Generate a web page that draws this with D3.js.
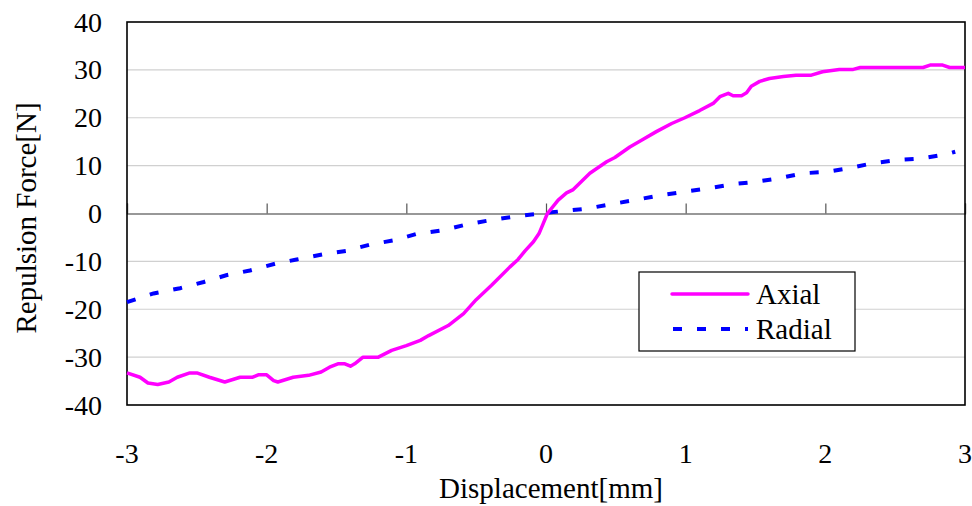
<!DOCTYPE html>
<html><head><meta charset="utf-8">
<script src="https://cdn.jsdelivr.net/npm/d3@7"></script>
<style>text{font-family:'Times New Roman','Liberation Serif',serif !important}</style>
</head><body style="margin:0">
<script>
const xTicks = [-3,-2,-1,0,1,2,3];
const yTicks = [-40,-30,-20,-10,0,10,20,30,40];
const axialX = [-3,-2.907,-2.85,-2.78,-2.70,-2.64,-2.55,-2.50,-2.41,-2.30,-2.19,-2.10,-2.06,-2.00,-1.95,-1.92,-1.81,-1.70,-1.61,-1.55,-1.49,-1.44,-1.40,-1.37,-1.31,-1.20,-1.105,-1.00,-0.90,-0.84,-0.70,-0.59,-0.50,-0.39,-0.26,-0.20,-0.15,-0.09,-0.05,-0.02,0.01,0.087,0.147,0.195,0.314,0.434,0.493,0.60,0.696,0.79,0.90,0.994,1.10,1.197,1.245,1.305,1.34,1.40,1.436,1.47,1.53,1.60,1.70,1.79,1.90,1.98,2.10,2.20,2.25,2.70,2.75,2.84,2.89,3.0];
const axialY = [-33.3,-34.2,-35.4,-35.7,-35.2,-34.2,-33.3,-33.3,-34.2,-35.2,-34.2,-34.2,-33.7,-33.7,-34.9,-35.2,-34.2,-33.8,-33.1,-32.1,-31.4,-31.4,-31.9,-31.4,-30.0,-30.0,-28.6,-27.6,-26.5,-25.5,-23.4,-20.9,-18.0,-15.0,-11.2,-9.6,-7.8,-5.9,-4.2,-2.1,0.0,2.8,4.3,5.0,8.4,10.8,11.7,13.9,15.5,17.1,18.8,20.0,21.5,23.0,24.4,25.1,24.6,24.6,25.2,26.6,27.6,28.2,28.6,28.9,28.9,29.6,30.1,30.1,30.5,30.5,31.0,31.0,30.5,30.5];
const radialX = [-3,-2.81,-2.62,-2.45,-2.29,-2.12,-1.94,-1.785,-1.595,-1.43,-1.26,-1.09,-0.93,-0.74,-0.57,-0.40,-0.22,-0.04,0.12,0.29,0.457,0.636,0.815,0.98,1.15,1.33,1.495,1.66,1.84,2.01,2.175,2.34,2.52,2.69,2.87,2.93];
const radialY = [-18.5,-16.7,-15.6,-14.3,-12.9,-11.9,-10.5,-9.6,-8.5,-7.8,-6.5,-5.6,-4.3,-3.5,-2.3,-1.4,-0.6,0.0,0.5,1.0,1.9,2.8,3.8,4.5,5.2,6.1,6.6,7.3,8.4,8.7,9.5,10.5,11.2,11.5,12.4,12.9];
const seriesNames = ["Axial","Radial"];

const W=972,H=506;
const L=127,R=965,T=22,B=405;
const svg=d3.select("body").append("svg").attr("width",W).attr("height",H);
const x=d3.scaleLinear().domain([-3,3]).range([L,R]);
const y=d3.scaleLinear().domain([-40,40]).range([B,T]);

svg.append("g").selectAll("line").data(yTicks.filter(v=>v!==0&&v!==40&&v!==-40)).join("line")
  .attr("x1",L).attr("x2",R).attr("y1",d=>y(d)).attr("y2",d=>y(d))
  .attr("stroke","#d0d0d0").attr("stroke-width",1.2);

const xAxis=d3.axisTop(x).tickValues(xTicks).tickSize(10).tickFormat("");
const gx=svg.append("g").attr("transform",`translate(0,${y(0)})`).call(xAxis);
gx.select(".domain").attr("stroke","#333").attr("stroke-width",1.2);
gx.selectAll(".tick line").attr("stroke","#555").attr("stroke-width",1.2);

svg.append("rect").attr("x",L).attr("y",T).attr("width",R-L).attr("height",B-T)
  .attr("fill","none").attr("stroke","#000").attr("stroke-width",1.6);

function txt(sel,size){return sel.style("font-family","Times New Roman").style("font-size",size+"px");}

txt(svg.append("g").selectAll("text").data(xTicks).join("text")
  .attr("x",d=>x(d)).attr("y",463).attr("text-anchor","middle"),28).text(d=>d);
txt(svg.append("g").selectAll("text").data(yTicks).join("text")
  .attr("x",102).attr("y",d=>y(d)).attr("dy","0.34em").attr("text-anchor","end"),28).text(d=>d);

txt(svg.append("text").attr("x",551).attr("y",498).attr("text-anchor","middle"),29).text("Displacement[mm]");
txt(svg.append("text").attr("transform",`translate(36,218) rotate(-90)`).attr("text-anchor","middle"),29).text("Repulsion Force[N]");

const line=d3.line().x(d=>x(d[0])).y(d=>y(d[1]));
const axial=axialX.map((v,i)=>[v,axialY[i]]);
const radial=radialX.map((v,i)=>[v,radialY[i]]);
svg.append("path").datum(radial).attr("d",line).attr("fill","none")
  .attr("stroke","#0000ff").attr("stroke-width",4).attr("stroke-dasharray","9,15");
svg.append("path").datum(axial).attr("d",line).attr("fill","none")
  .attr("stroke","#ff00ff").attr("stroke-width",3.5).attr("stroke-linejoin","round");

const lg=svg.append("g");
lg.append("rect").attr("x",639).attr("y",272).attr("width",216).attr("height",79)
  .attr("fill","#fff").attr("stroke","#000").attr("stroke-width",1.2);
lg.append("line").attr("x1",672).attr("x2",748).attr("y1",294).attr("y2",294)
  .attr("stroke","#ff00ff").attr("stroke-width",3.5).attr("stroke-linecap","round");
lg.append("line").attr("x1",673).attr("x2",748).attr("y1",329).attr("y2",329)
  .attr("stroke","#0000ff").attr("stroke-width",4).attr("stroke-dasharray","9,15");
txt(lg.append("text").attr("x",756).attr("y",294).attr("dy","0.35em"),29).text(seriesNames[0]);
txt(lg.append("text").attr("x",756).attr("y",329).attr("dy","0.35em"),29).text(seriesNames[1]);
</script>
</body></html>
